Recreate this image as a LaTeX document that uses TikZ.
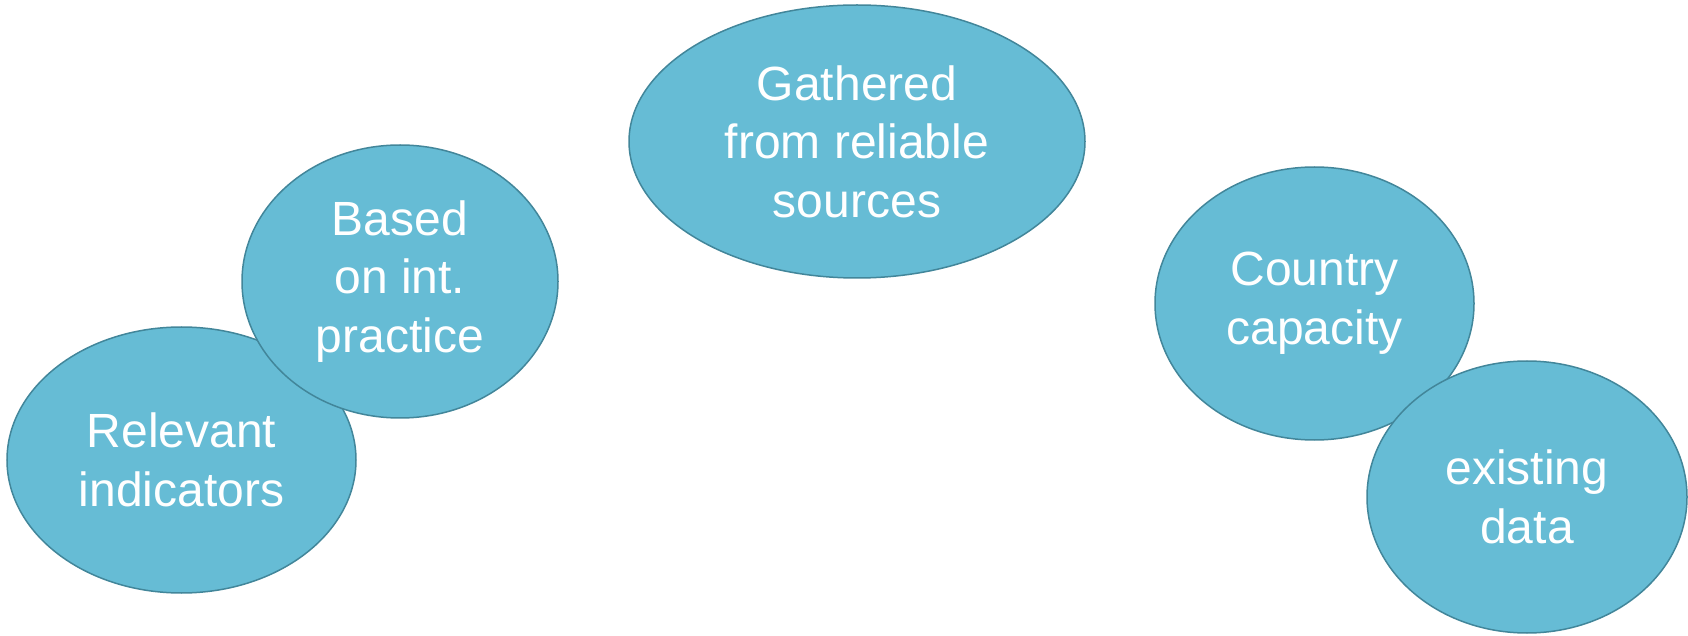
\documentclass[tikz,border=0pt]{standalone}
\usepackage{fontspec}
\setmainfont{Liberation Sans}
\usetikzlibrary{shapes.geometric}
\definecolor{bubblefill}{RGB}{102,188,213}
\definecolor{bubbleline}{RGB}{66,134,154}
\begin{document}
\begin{tikzpicture}[
  x=0.5pt, y=-0.5pt,
  bubble/.style={ellipse, draw=bubbleline, fill=bubblefill, line width=0.75pt,
                 inner sep=0pt, minimum width=158pt, minimum height=136.5pt,
                 text=white, align=center, font=\fontsize{24}{29.3}\selectfont},
]
  % --- canvas ---
  \useasboundingbox (0,0) rectangle (1688,636);

  % --- left pair ---
  \node[bubble, minimum width=174.5pt, minimum height=133pt] (relevant) at (181.5,460) {Relevant\\indicators};
  \node[bubble] (based) at (400,281.5) {Based\\on int.\\practice};

  % --- top ---
  \node[bubble, minimum width=228pt] (gathered) at (857,141.5) {Gathered\\from reliable\\sources};

  % --- right pair ---
  \node[bubble, minimum width=159.5pt] (country) at (1314.5,303.5) {Country\\capacity};
  \node[bubble, minimum width=160pt, minimum height=136pt] (existing) at (1527,497) {existing\\data};
\end{tikzpicture}
\end{document}
